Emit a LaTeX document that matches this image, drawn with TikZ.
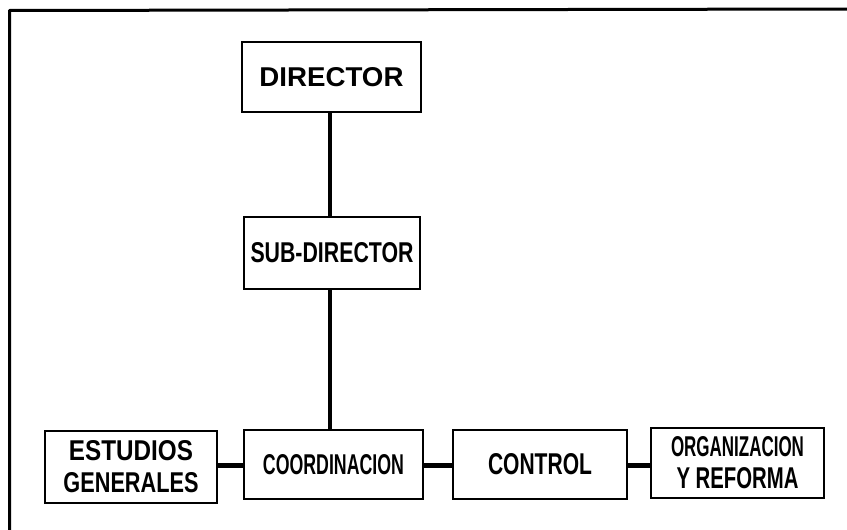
\documentclass[tikz,border=0pt]{standalone}
\usepackage{fontspec}
\setmainfont{Liberation Sans}
\usepackage{graphicx}
\begin{document}
\begin{tikzpicture}[x=1pt,y=-1pt,
  orgbox/.style={draw=black, line width=2.6pt, rectangle, inner sep=0pt, fill=white,
     align=center, font=\bfseries\fontsize{20}{32}\selectfont},
  link/.style={draw=black, line width=4.5pt},
  frameline/.style={draw=black, line width=3pt, line join=round}]
\useasboundingbox (0,0) rectangle (847,530);
\fill[white] (0,0) rectangle (847,530);
% frame
\draw[frameline] (9.5,530) -- (9.5,10.5) -- (847,9);
% boxes
\node[orgbox, minimum width=179pt, minimum height=70pt] (dir) at (331.5,77)
  {\resizebox{144pt}{19pt}{DIRECTOR}};
\node[orgbox, minimum width=176pt, minimum height=72pt] (sub) at (332,253)
  {\resizebox{163pt}{20pt}{SUB-DIRECTOR}};
\node[orgbox, minimum width=172pt, minimum height=72pt] (est) at (131,467)
  {\resizebox{124pt}{20pt}{ESTUDIOS}\\\resizebox{135pt}{20pt}{GENERALES}};
\node[orgbox, minimum width=179pt, minimum height=69pt] (coord) at (333.5,464.5)
  {\resizebox{141pt}{20pt}{COORDINACION}};
\node[orgbox, minimum width=174pt, minimum height=69pt] (ctrl) at (540,464.5)
  {\resizebox{104pt}{21pt}{CONTROL}};
\node[orgbox, minimum width=173pt, minimum height=70pt] (org) at (737.5,463)
  {\resizebox{133pt}{20pt}{ORGANIZACION}\\\resizebox{122pt}{21pt}{Y REFORMA}};
% connectors
\coordinate (vx) at (330,0);
\coordinate (hy) at (0,465.5);
\draw[link, line width=4pt] (vx |- dir.south) -- (vx |- sub.north);
\draw[link, line width=4pt] (vx |- sub.south) -- (vx |- coord.north);
\draw[link] (est.east |- hy) -- (coord.west |- hy);
\draw[link] (coord.east |- hy) -- (ctrl.west |- hy);
\draw[link] (ctrl.east |- hy) -- (org.west |- hy);
\end{tikzpicture}
\end{document}
